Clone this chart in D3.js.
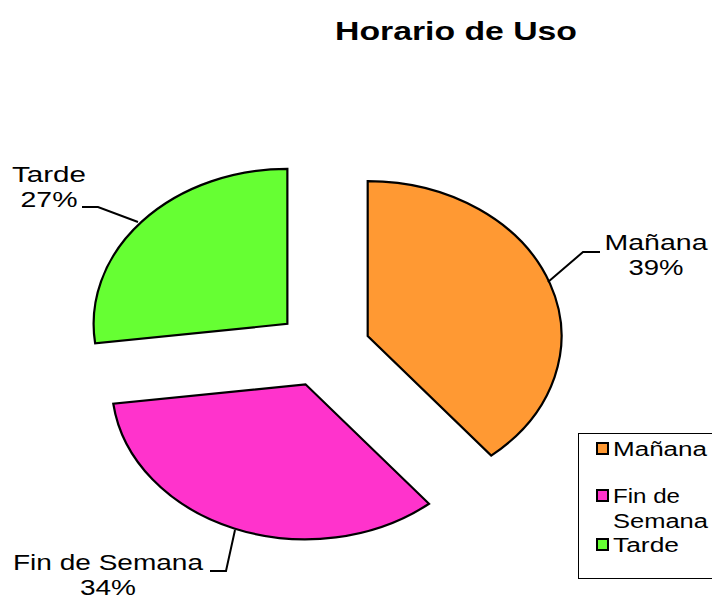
<!DOCTYPE html>
<html>
<head>
<meta charset="utf-8">
<script src="https://cdn.jsdelivr.net/npm/d3@7"></script>
<style>
  body { margin: 0; background: #fff; }
  svg { display: block; font-family: "Liberation Sans", Arial, sans-serif; }
</style>
</head>
<body>
<svg id="chart"></svg>
<script>
// datos
let categories = ["Mañana", "Fin de Semana", "Tarde"];
let values = [39, 34, 27];
let colors = ["#ff9933", "#ff33cc", "#66ff33"];
let legend_lines = [["Mañana"], ["Fin de", "Semana"], ["Tarde"]];

let width = 712, height = 595;
let svg = d3.select('#chart').attr('width', width).attr('height', height);

// título
svg.append("text")
    .attr("x", 456).attr("y", 40)
    .attr("text-anchor", "middle")
    .attr("font-size", 25).attr("font-weight", "bold")
    .attr("textLength", 242).attr("lengthAdjust", "spacingAndGlyphs")
    .text("Horario de Uso");

// pastel (elíptico: escala horizontal)
let ry = 155, sx = 1.25, explode = 38;
let cx = 323, cy = 349;
let data = categories.map((c, i) => ({ name: c, value: values[i], color: colors[i] }));
let pie = d3.pie().sort(null).value(d => d.value);
let arc = d3.arc().innerRadius(0).outerRadius(ry);
let arcs = pie(data);

let g = svg.append("g").attr("transform", `translate(${cx},${cy}) scale(${sx},1)`);
g.selectAll("path")
    .data(arcs)
    .join("path")
    .attr("transform", d => {
        let a = (d.startAngle + d.endAngle) / 2;
        return `translate(${Math.sin(a) * explode},${-Math.cos(a) * explode})`;
    })
    .attr("d", arc)
    .attr("fill", d => d.data.color)
    .attr("stroke", "#000")
    .attr("stroke-width", 2.2)
    .attr("stroke-linejoin", "miter")
    .attr("vector-effect", "non-scaling-stroke");

// etiquetas con líneas guía
let label_info = [
    { lines: ["Mañana", "39%"], x: 656, y: 250, path: [[548, 282], [583, 252], [600, 252]], w: [103, 55] },
    { lines: ["Fin de Semana", "34%"], x: 108, y: 570, path: [[235, 530], [226, 571], [210, 571]], w: [190, 56] },
    { lines: ["Tarde", "27%"], x: 49, y: 182, path: [[138, 222], [98, 207], [82, 207]], w: [74, 57] }
];
label_info.forEach((l, i) => {
    svg.append("path")
        .attr("d", d3.line()(l.path))
        .attr("fill", "none")
        .attr("stroke", "#000")
        .attr("stroke-width", 2);
    l.lines.forEach((t, j) => {
        svg.append("text")
            .attr("x", l.x).attr("y", l.y + j * 25)
            .attr("text-anchor", "middle")
            .attr("font-size", 22)
            .attr("textLength", l.w[j]).attr("lengthAdjust", "spacingAndGlyphs")
            .text(j == 0 ? t : Math.round(arcs[i].value) + "%");
    });
});

// leyenda
let legend = svg.append("g");
legend.append("rect")
    .attr("x", 578.5).attr("y", 433.5)
    .attr("width", 150).attr("height", 145)
    .attr("fill", "#fff").attr("stroke", "#000").attr("stroke-width", 1);
let legend_y = [456, 503, 552];
let item_widths = [[94], [67, 95], [66]];
legend_lines.forEach((lines, i) => {
    legend.append("rect")
        .attr("x", 597).attr("y", legend_y[i] - 13)
        .attr("width", 11).attr("height", 11)
        .attr("fill", colors[i]).attr("stroke", "#000").attr("stroke-width", 2);
    lines.forEach((t, j) => {
        legend.append("text")
            .attr("x", 613).attr("y", legend_y[i] + j * 25)
            .attr("font-size", 20)
            .attr("textLength", item_widths[i][j]).attr("lengthAdjust", "spacingAndGlyphs")
            .text(t);
    });
});
</script>
</body>
</html>
